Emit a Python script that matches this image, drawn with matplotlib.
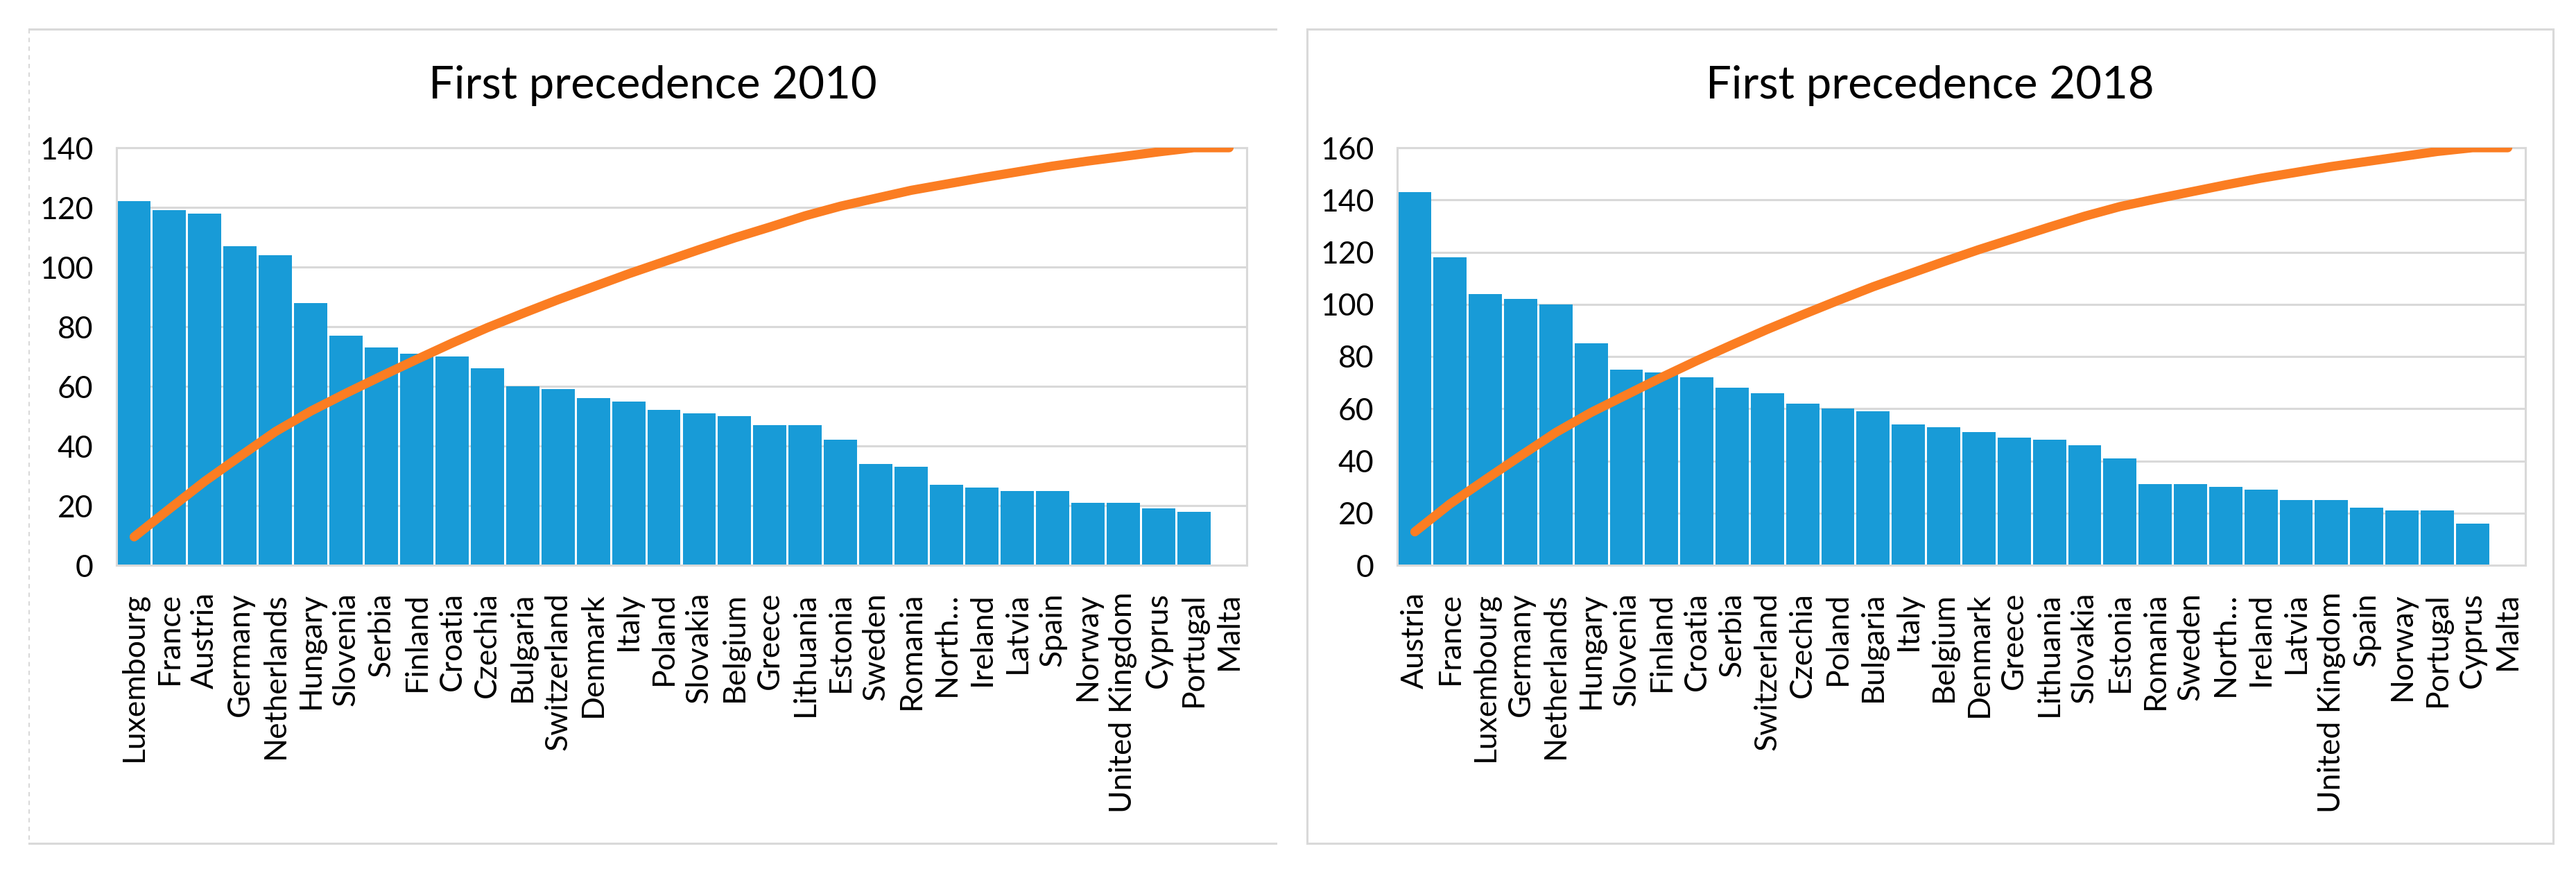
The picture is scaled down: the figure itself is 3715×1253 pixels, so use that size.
import matplotlib.pyplot as plt
from matplotlib.lines import Line2D
from matplotlib.patches import Rectangle

# data
countries_2010 = ['Luxembourg', 'France', 'Austria', 'Germany', 'Netherlands', 'Hungary',
                  'Slovenia', 'Serbia', 'Finland', 'Croatia', 'Czechia', 'Bulgaria',
                  'Switzerland', 'Denmark', 'Italy', 'Poland', 'Slovakia', 'Belgium',
                  'Greece', 'Lithuania', 'Estonia', 'Sweden', 'Romania', 'North…',
                  'Ireland', 'Latvia', 'Spain', 'Norway', 'United Kingdom', 'Cyprus',
                  'Portugal', 'Malta']
values_2010 = [122, 119, 118, 107, 104, 88, 77, 73, 71, 70, 66, 60, 59, 56, 55, 52, 51,
               50, 47, 47, 42, 34, 33, 27, 26, 25, 25, 21, 21, 19, 18, 0]
cum_pct_2010 = [6.8, 13.5, 20.1, 26.1, 32.0, 36.9, 41.2, 45.3, 49.3, 53.2, 56.9, 60.3,
                63.6, 66.7, 69.8, 72.7, 75.6, 78.4, 81.0, 83.7, 86.0, 87.9, 89.8, 91.3,
                92.8, 94.2, 95.6, 96.8, 97.9, 99.0, 100.0, 100.0]

countries_2018 = ['Austria', 'France', 'Luxembourg', 'Germany', 'Netherlands', 'Hungary',
                  'Slovenia', 'Finland', 'Croatia', 'Serbia', 'Switzerland', 'Czechia',
                  'Poland', 'Bulgaria', 'Italy', 'Belgium', 'Denmark', 'Greece',
                  'Lithuania', 'Slovakia', 'Estonia', 'Romania', 'Sweden', 'North…',
                  'Ireland', 'Latvia', 'United Kingdom', 'Spain', 'Norway', 'Portugal',
                  'Cyprus', 'Malta']
values_2018 = [143, 118, 104, 102, 100, 85, 75, 74, 72, 68, 66, 62, 60, 59, 54, 53, 51,
               49, 48, 46, 41, 31, 31, 30, 29, 25, 25, 22, 21, 21, 16, 0]
cum_pct_2018 = [8.0, 14.7, 20.5, 26.2, 31.8, 36.6, 40.8, 45.0, 49.0, 52.8, 56.5, 60.0,
                63.4, 66.7, 69.7, 72.7, 75.6, 78.3, 81.0, 83.6, 85.9, 87.7, 89.4, 91.1,
                92.7, 94.1, 95.5, 96.7, 97.9, 99.1, 100.0, 100.0]

plt.rcParams['font.family'] = ['Lato', 'DejaVu Sans']

W, H = 3715, 1253
fig = plt.figure(figsize=(W / 100, H / 100), dpi=100)

BLUE = '#189bd7'
ORANGE = '#fb7d22'
GRID = '#d9d9d9'


def fx(px):
    return px / W


def fy(py):
    return 1 - py / H


def pareto(left, right, names, vals, cum, ymax, title, panel_l, panel_r):
    ax = fig.add_axes([fx(left), fy(815), fx(right) - fx(left), fy(213) - fy(815)])
    x = list(range(len(names)))
    ax.bar(x, vals, width=0.94, color=BLUE, zorder=2)
    ax.set_xlim(-0.5, len(names) - 0.5)
    ax.set_ylim(0, ymax)
    ax.set_yticks(range(0, ymax + 1, 20))
    ax.set_xticks(x)
    ax.set_xticklabels(names, rotation=90, fontsize=32)
    ax.tick_params(axis='y', labelsize=32, length=0, pad=24)
    ax.tick_params(axis='x', length=0, pad=28)
    ax.set_axisbelow(True)
    ax.grid(axis='y', color=GRID, lw=2.2)
    for s in ax.spines.values():
        s.set_color(GRID)
        s.set_linewidth(2.2)

    ax2 = ax.twinx()
    ax2.set_ylim(0, 100)
    ax2.plot(x, cum, color=ORANGE, lw=9.5, solid_capstyle='round',
             solid_joinstyle='round', zorder=3)
    ax2.set_yticks([])
    for s in ax2.spines.values():
        s.set_visible(False)

    fig.text(fx((panel_l + panel_r) / 2), fy(142), title, ha='center', va='baseline',
             fontsize=47)


pareto(168, 1798, countries_2010, values_2010, cum_pct_2010, 140,
       'First precedence 2010', 42, 1840)
pareto(2015, 3642, countries_2018, values_2018, cum_pct_2018, 160,
       'First precedence 2018', 1885, 3682)

# chart frames
fig.add_artist(Line2D([fx(42), fx(1840)], [fy(42), fy(42)], color=GRID, lw=2.2))
fig.add_artist(Line2D([fx(42), fx(1840)], [fy(1216), fy(1216)], color=GRID, lw=2.2))
fig.add_artist(Line2D([fx(42), fx(42)], [fy(42), fy(1216)], color=GRID, lw=1.5,
                      ls=(0, (3, 3))))
fig.add_artist(Rectangle((fx(1885), fy(1216)), fx(3682) - fx(1885), fy(42) - fy(1216),
                         fill=False, edgecolor=GRID, lw=2.2))

fig.savefig('out.png', dpi=100)
